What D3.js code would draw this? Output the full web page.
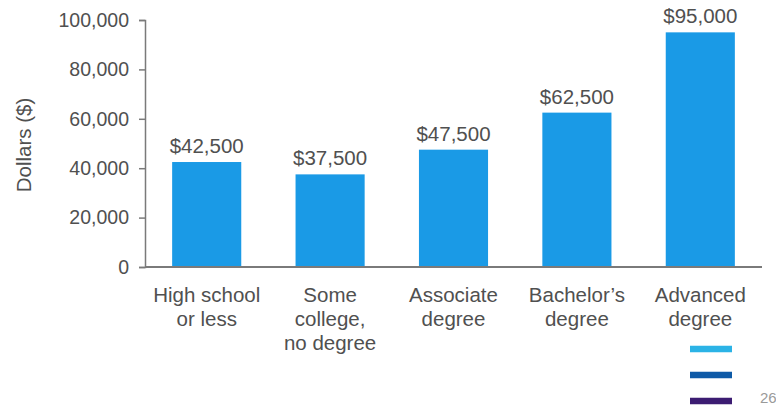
<!DOCTYPE html>
<html>
<head>
<meta charset="utf-8">
<script src="https://cdn.jsdelivr.net/npm/d3@7"></script>
<style>
  html, body { margin: 0; padding: 0; background: #fff; }
  svg { display: block; font-family: "Liberation Sans", Arial, sans-serif; }
</style>
</head>
<body>
<svg id="chart" width="776" height="408"></svg>
<script>
// Median earnings by education level
const categories = [
  ["High school", "or less"],
  ["Some", "college,", "no degree"],
  ["Associate", "degree"],
  ["Bachelor\u2019s", "degree"],
  ["Advanced", "degree"]
];
const earnings = [42500, 37500, 47500, 62500, 95000];
const yTicks = [0, 20000, 40000, 60000, 80000, 100000];
const yLabel = "Dollars ($)";
const swatchColors = ["#2bb3e6", "#0e5aa7", "#3c1c72"];
const pageNumber = "26";

const svg = d3.select("#chart");
const plot = { left: 145, right: 762, top: 20, bottom: 267 };

const x = d3.scaleBand()
  .domain(d3.range(categories.length))
  .range([plot.left, plot.right])
  .paddingInner(0.44)
  .paddingOuter(0.22);

const y = d3.scaleLinear()
  .domain([0, 100000])
  .range([plot.bottom, plot.top]);

const textColor = "#505050";
const axisColor = "#7a7a7a";

// Bars
svg.append("g").selectAll("rect")
  .data(earnings)
  .join("rect")
  .attr("x", (d, i) => x(i))
  .attr("y", d => y(d))
  .attr("width", x.bandwidth())
  .attr("height", d => y(0) - y(d))
  .attr("fill", "#1a9ae6");

// Value labels above bars
svg.append("g").selectAll("text")
  .data(earnings)
  .join("text")
  .attr("x", (d, i) => x(i) + x.bandwidth() / 2)
  .attr("y", d => y(d) - 9)
  .attr("text-anchor", "middle")
  .attr("font-size", 20.5)
  .attr("fill", textColor)
  .text(d => "$" + d3.format(",")(d));

// Y axis
const yAxis = svg.append("g")
  .attr("transform", `translate(${plot.left},0)`)
  .call(d3.axisLeft(y).tickValues(yTicks).tickFormat(d3.format(",")).tickSize(6).tickPadding(10));
yAxis.select(".domain").attr("stroke", axisColor).attr("stroke-width", 1.5);
yAxis.selectAll(".tick line").attr("stroke", axisColor).attr("stroke-width", 1.5);
yAxis.selectAll(".tick text")
  .attr("font-size", 19.5)
  .attr("fill", textColor)
  .attr("font-family", "Liberation Sans, Arial, sans-serif");

// X baseline
svg.append("line")
  .attr("x1", plot.left).attr("x2", plot.right)
  .attr("y1", y(0)).attr("y2", y(0))
  .attr("stroke", axisColor).attr("stroke-width", 2);

// Category labels
const catG = svg.append("g").selectAll("text")
  .data(categories)
  .join("text")
  .attr("text-anchor", "middle")
  .attr("font-size", 20.5)
  .attr("fill", textColor);
catG.selectAll("tspan")
  .data((d, i) => d.map(line => ({ line, i })))
  .join("tspan")
  .attr("x", d => x(d.i) + x.bandwidth() / 2)
  .attr("y", (d, j) => 302 + j * 24)
  .text(d => d.line);

// Y axis title
svg.append("text")
  .attr("transform", `translate(31,145) rotate(-90)`)
  .attr("text-anchor", "middle")
  .attr("font-size", 20.5)
  .attr("fill", textColor)
  .text(yLabel);

// Colour swatches
svg.append("g").selectAll("line")
  .data(swatchColors)
  .join("line")
  .attr("x1", 690).attr("x2", 732)
  .attr("y1", (d, i) => 349 + i * 26)
  .attr("y2", (d, i) => 349 + i * 26)
  .attr("stroke", d => d)
  .attr("stroke-width", 6.5);

// Page number
svg.append("text")
  .attr("x", 760).attr("y", 403)
  .attr("font-size", 15)
  .attr("fill", "#9a9a9a")
  .text(pageNumber);
</script>
</body>
</html>
